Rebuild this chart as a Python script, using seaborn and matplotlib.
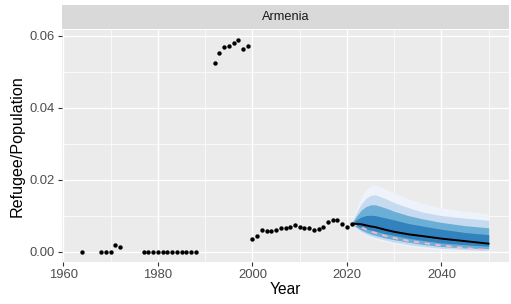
import numpy as np
import pandas as pd
import matplotlib
matplotlib.use("Agg")
import matplotlib.pyplot as plt
from matplotlib.ticker import MultipleLocator
import seaborn as sns

# observed refugee / population ratio
obs_years = [1964, 1968, 1969, 1970, 1971, 1972,
             1977, 1978, 1979, 1980, 1981, 1982, 1983, 1984, 1985, 1986, 1987, 1988,
             1992, 1993, 1994, 1995, 1996, 1997, 1998, 1999,
             2000, 2001, 2002, 2003, 2004, 2005, 2006, 2007, 2008, 2009, 2010,
             2011, 2012, 2013, 2014, 2015, 2016, 2017, 2018, 2019, 2020, 2021]
obs_values = [0.0, 0.0, 0.0, 0.0, 0.0017, 0.0013,
              0.0, 0.0, 0.0, 0.0, 0.0, 0.0, 0.0, 0.0, 0.0, 0.0, 0.0, 0.0,
              0.0525, 0.0552, 0.0570, 0.0571, 0.0580, 0.0587, 0.0563, 0.0571,
              0.0034, 0.0042, 0.0060, 0.0058, 0.0056, 0.0059, 0.0066, 0.0065, 0.0068, 0.0075, 0.0069,
              0.0066, 0.0065, 0.0059, 0.0063, 0.0068, 0.0082, 0.0089, 0.0087, 0.0078, 0.0068, 0.0077]

# projection
fc_years = [2021, 2022, 2023, 2024, 2025, 2026, 2028, 2030, 2033, 2036, 2040, 2045, 2050]
fc_median = [0.0077, 0.0077, 0.0076, 0.0073, 0.0070, 0.0068, 0.0061, 0.0055, 0.0048, 0.0043, 0.0036, 0.0029, 0.0022]
fc_alt = [0.0077, 0.0073, 0.0068, 0.0062, 0.0056, 0.0052, 0.0044, 0.0038, 0.0030, 0.0024, 0.0017, 0.0010, 0.0004]
q99_hi = [0.0080, 0.0120, 0.0150, 0.0172, 0.0183, 0.0185, 0.0175, 0.0163, 0.0147, 0.0134, 0.0122, 0.0112, 0.0105]
q95_hi = [0.0079, 0.0108, 0.0132, 0.0148, 0.0156, 0.0158, 0.0148, 0.0136, 0.0122, 0.0110, 0.0100, 0.0093, 0.0087]
q80_hi = [0.0079, 0.0098, 0.0115, 0.0125, 0.0130, 0.0130, 0.0122, 0.0112, 0.0100, 0.0091, 0.0081, 0.0072, 0.0066]
q50_hi = [0.0078, 0.0088, 0.0096, 0.0100, 0.0101, 0.0100, 0.0094, 0.0088, 0.0078, 0.0071, 0.0062, 0.0053, 0.0047]
q50_lo = [0.0077, 0.0072, 0.0067, 0.0063, 0.0060, 0.0057, 0.0050, 0.0045, 0.0037, 0.0031, 0.0024, 0.0019, 0.0015]
q80_lo = [0.0077, 0.0068, 0.0060, 0.0054, 0.0049, 0.0045, 0.0038, 0.0033, 0.0026, 0.0020, 0.0014, 0.0010, 0.0008]
q95_lo = [0.0076, 0.0065, 0.0055, 0.0048, 0.0043, 0.0039, 0.0032, 0.0026, 0.0019, 0.0014, 0.0009, 0.0005, 0.0003]
q99_lo = [0.0076, 0.0062, 0.0051, 0.0044, 0.0039, 0.0034, 0.0027, 0.0022, 0.0015, 0.0010, 0.0006, 0.0003, 0.0001]

obs = pd.DataFrame({"Year": obs_years, "ratio": obs_values})
fc = pd.DataFrame({"Year": fc_years, "median": fc_median, "alt": fc_alt})

sns.set_theme(style="darkgrid", rc={"axes.facecolor": "#EBEBEB", "grid.color": "white"})
plt.rcParams["font.family"] = ["Liberation Sans", "DejaVu Sans"]

fig = plt.figure(figsize=(5.11, 3.04), dpi=100)
W, H = 511, 304
ax = fig.add_axes([62 / W, 1 - 262 / H, 447 / W, 232 / H])
strip = fig.add_axes([62 / W, 1 - 29 / H, 447 / W, 24 / H])

bands = [(q99_lo, q99_hi, "#EEF2FB"), (q95_lo, q95_hi, "#C6DBEF"),
         (q80_lo, q80_hi, "#6BAED6"), (q50_lo, q50_hi, "#3182BD")]
for lo, hi, col in bands:
    ax.fill_between(fc_years, lo, hi, color=col, linewidth=0, zorder=2)

sns.lineplot(data=fc, x="Year", y="alt", ax=ax, color="#FFB6C1", linewidth=1.3,
             linestyle=(0, (3, 3)), zorder=3)
sns.lineplot(data=fc, x="Year", y="median", ax=ax, color="black", linewidth=1.4, zorder=4)
sns.scatterplot(data=obs, x="Year", y="ratio", ax=ax, color="black", s=10,
                linewidth=0, zorder=5)

ax.set_xlim(1959.7, 2054.3)
ax.set_ylim(-0.0029, 0.0616)
ax.set_xticks([1960, 1980, 2000, 2020, 2040])
ax.set_yticks([0.0, 0.02, 0.04, 0.06])
ax.set_yticklabels(["0.00", "0.02", "0.04", "0.06"])
ax.xaxis.set_minor_locator(MultipleLocator(10))
ax.yaxis.set_minor_locator(MultipleLocator(0.01))
ax.grid(which="major", color="white", linewidth=1.0)
ax.grid(which="minor", color="white", linewidth=0.5)
ax.set_axisbelow(True)
for s in ax.spines.values():
    s.set_visible(False)
ax.tick_params(axis="both", which="major", length=3, width=0.8, color="#333333",
               labelsize=9.4, labelcolor="#4D4D4D", pad=2, bottom=True, left=True)
ax.tick_params(which="minor", length=0)
ax.set_xlabel("Year", fontsize=11.2, color="black", labelpad=1)
ax.set_ylabel("Refugee/Population", fontsize=11.6, color="black", labelpad=4)

strip.set_facecolor("#D9D9D9")
strip.set_xticks([])
strip.set_yticks([])
strip.grid(False)
for s in strip.spines.values():
    s.set_visible(False)
strip.text(0.5, 0.5, "Armenia", ha="center", va="center", fontsize=9.2,
           color="#1A1A1A", transform=strip.transAxes)

fig.savefig("out.png", dpi=100)
plt.close(fig)
